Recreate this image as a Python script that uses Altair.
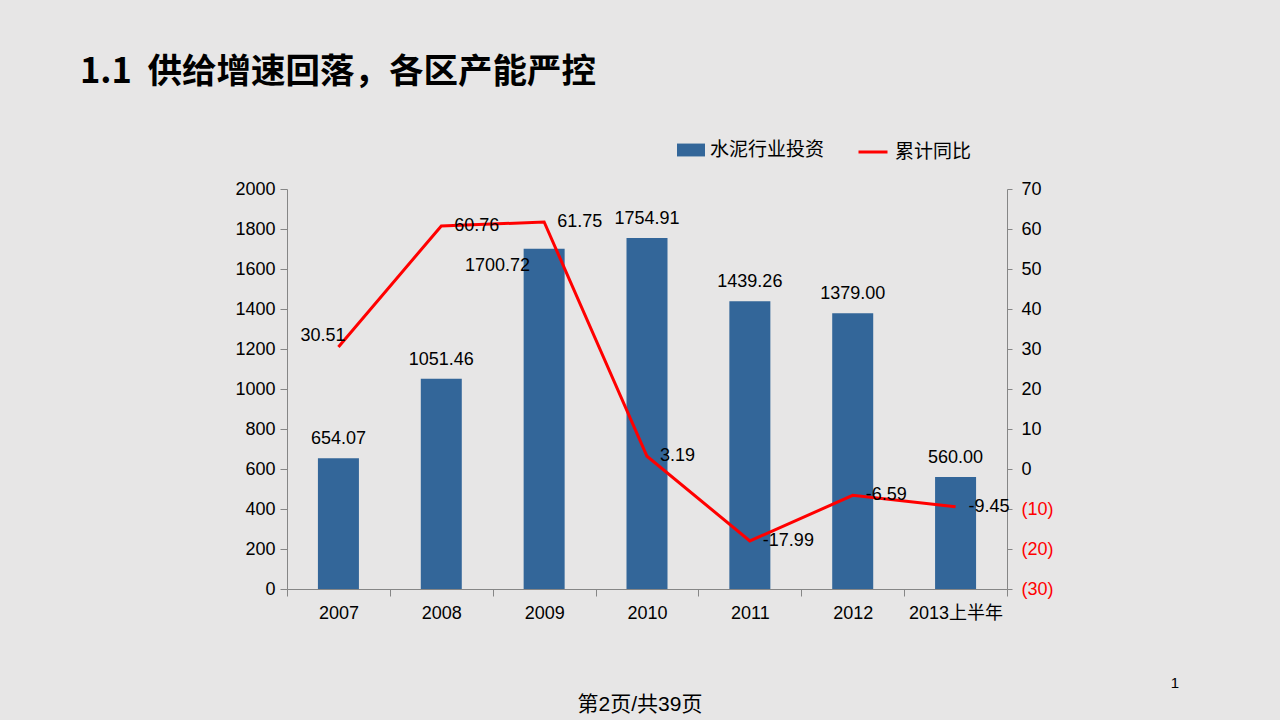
import altair as alt
import pandas as pd

# ---- data ----
years = ["2007", "2008", "2009", "2010", "2011", "2012", "2013上半年"]
invest = [654.07, 1051.46, 1700.72, 1754.91, 1439.26, 1379.00, 560.00]
yoy = [30.51, 60.76, 61.75, 3.19, -17.99, -6.59, -9.45]
left_ticks = [0, 200, 400, 600, 800, 1000, 1200, 1400, 1600, 1800, 2000]
right_ticks = [-30, -20, -10, 0, 10, 20, 30, 40, 50, 60, 70]
title_text = "1.1\u00a0 供给增速回落，各区产能严控"
footer_text = "第2页/共39页"
page_no = "1"
bar_name = "水泥行业投资"
line_name = "累计同比"

df = pd.DataFrame({"year": years, "invest": invest, "yoy": yoy})
df["invest_label"] = [f"{v:.2f}" for v in invest]
df["yoy_label"] = [f"{v:.2f}" for v in yoy]
df["s1"] = bar_name
df["s2"] = line_name

FONT = "Liberation Sans, Noto Sans CJK SC"
CJK = "Noto Sans CJK SC"
BLUE = "#336699"
RED = "#ff0000"
GRAY = "#868686"
BG = "#e7e6e6"

x_enc = alt.X(
    "year:N",
    sort=years,
    scale=alt.Scale(paddingInner=0, paddingOuter=0),
    axis=alt.Axis(
        title=None, labelAngle=0, tickBand="extent", grid=False,
        domainColor=GRAY, tickColor=GRAY, tickSize=7, labelPadding=8,
        labelFont=FONT, labelFontSize=18, labelColor="#000",
    ),
)

left_scale = alt.Scale(domain=[0, 2000], nice=False, zero=True)
right_scale = alt.Scale(domain=[-30, 70], nice=False, zero=False)

left_axis = alt.Axis(
    orient="left", values=left_ticks, title=None, grid=False, format="d",
    domainColor=GRAY, tickColor=GRAY, tickSize=7, labelPadding=5,
    labelFont=FONT, labelFontSize=18, labelColor="#000",
)
right_axis = alt.Axis(
    orient="right", values=right_ticks, title=None, grid=False,
    domainColor=GRAY, tickColor=GRAY, tickSize=5, labelPadding=9,
    labelFont=FONT, labelFontSize=18,
    labelExpr="datum.value < 0 ? '(' + abs(datum.value) + ')' : '' + datum.value",
    labelColor=alt.condition("datum.value < 0", alt.value(RED), alt.value("#000")),
)

y_left = alt.Y("invest:Q", scale=left_scale, axis=left_axis)
y_right = alt.Y("yoy:Q", scale=right_scale, axis=right_axis)

base = alt.Chart(df)

bars = base.mark_bar(size=41).encode(
    x=x_enc,
    y=y_left,
    color=alt.Color(
        "s1:N",
        scale=alt.Scale(domain=[bar_name], range=[BLUE]),
        legend=alt.Legend(
            title=None, orient="none", legendX=390, legendY=-53, padding=0,
            symbolType="M-1,-0.46L1,-0.46L1,0.46L-1,0.46Z", symbolSize=784,
            symbolStrokeWidth=0, labelFont=FONT, labelFontSize=19,
            labelColor="#000", labelOffset=5,
        ),
    ),
)

bar_labels = base.mark_text(
    font=FONT, fontSize=18, color="#000", align="center", baseline="middle", dy=-19
).encode(
    x=x_enc, y=y_left, text="invest_label:N",
).transform_filter(alt.datum.year != "2009")

bar_label_2009 = base.mark_text(
    font=FONT, fontSize=18, color="#000", align="right", baseline="middle", dx=-14, dy=17
).encode(
    x=x_enc, y=y_left, text="invest_label:N",
).transform_filter(alt.datum.year == "2009")

left = alt.layer(bars, bar_labels, bar_label_2009)

line = base.mark_line(strokeWidth=3).encode(
    x=x_enc,
    y=y_right,
    stroke=alt.Stroke(
        "s2:N",
        scale=alt.Scale(domain=[line_name], range=[RED]),
        legend=alt.Legend(
            title=None, orient="none", legendX=570, legendY=-53, padding=0,
            symbolType="stroke", symbolSize=841, symbolStrokeWidth=3,
            labelFont=FONT, labelFontSize=19, labelColor="#000", labelOffset=6,
        ),
    ),
)

line_labels = base.mark_text(
    font=FONT, fontSize=18, color="#000", align="left", baseline="middle", dx=13
).encode(
    x=x_enc, y=y_right, text="yoy_label:N",
).transform_filter(alt.datum.year != "2007")

line_label_2007 = base.mark_text(
    font=FONT, fontSize=18, color="#000", align="right", baseline="middle", dx=7, dy=-11
).encode(
    x=x_enc, y=y_right, text="yoy_label:N",
).transform_filter(alt.datum.year == "2007")

right = alt.layer(line, line_labels, line_label_2007)

title = alt.Chart(pd.DataFrame({"t": [title_text]})).mark_text(
    font=CJK, fontSize=34.5, fontWeight="bold", color="#000", align="left", baseline="middle"
).encode(text="t:N", x=alt.value(-207), y=alt.value(-116))

footer = alt.Chart(pd.DataFrame({"t": [footer_text]})).mark_text(
    font=FONT, fontSize=21, color="#000", align="center", baseline="middle"
).encode(text="t:N", x=alt.value(353), y=alt.value(516))

page = alt.Chart(pd.DataFrame({"t": [page_no]})).mark_text(
    font=FONT, fontSize=15, color="#000", align="center", baseline="middle"
).encode(text="t:N", x=alt.value(888), y=alt.value(494))

chart = alt.layer(left, right, title, footer, page).resolve_scale(
    y="independent", color="independent", stroke="independent"
).properties(
    width=720,
    height=400,
    autosize=alt.AutoSizeParams(type="none"),
    padding={"left": 287, "top": 189, "right": 273, "bottom": 131},
    background=BG,
).configure_view(stroke=None)

chart.save("out.html", embed_options={"renderer": "svg", "actions": False})
